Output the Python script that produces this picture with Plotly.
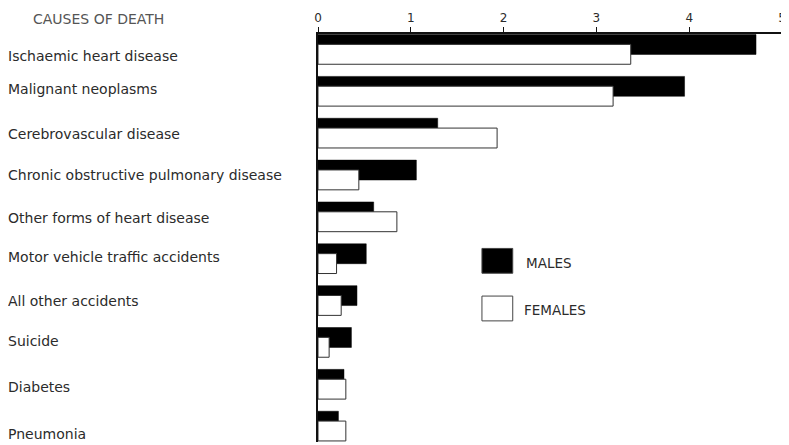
import plotly.graph_objects as go

categories = [
    "Ischaemic heart disease",
    "Malignant neoplasms",
    "Cerebrovascular disease",
    "Chronic obstructive pulmonary disease",
    "Other forms of heart disease",
    "Motor vehicle traffic accidents",
    "All other accidents",
    "Suicide",
    "Diabetes",
    "Pneumonia",
]
males = [4.72, 3.95, 1.29, 1.06, 0.60, 0.52, 0.42, 0.36, 0.28, 0.22]
females = [3.37, 3.18, 1.93, 0.44, 0.85, 0.20, 0.25, 0.12, 0.30, 0.30]
x_ticks = [0, 1, 2, 3, 4, 5]
legend_labels = ["MALES", "FEMALES"]

# layout-only nudges (pixels) for the category labels
label_nudge_px = [7, -2, 1, 0, 1, -2, 0, -1, 3, 8]

OFF = 8                      # default page margin of the html body
W, H = 789 - OFF, 445 - OFF
ML, MR, MT, MB = 318 - OFF, 4, 31 - OFF, 3
PW, PH = W - ML - MR, H - MT - MB
TPAD = 4                     # annotation inner padding

def px2x(px):
    return (px - OFF - ML) / PW

def py2y(py):
    return 1 - (py - OFF - MT) / PH

FONT = "DejaVu Sans"
TXT = "#2b2b2b"

pos = list(range(len(categories)))

fig = go.Figure()
fig.add_trace(go.Bar(
    orientation="h", x=males, y=pos, name=legend_labels[0],
    width=0.475, offset=-0.355,
    marker=dict(color="#000000", line=dict(color="#000000", width=0.5)),
    showlegend=False,
))
fig.add_trace(go.Bar(
    orientation="h", x=females, y=pos, name=legend_labels[1],
    width=0.475, offset=-0.12,
    marker=dict(color="#ffffff", line=dict(color="#333333", width=1)),
    showlegend=False,
))

annotations = []
for i, c in enumerate(categories):
    annotations.append(dict(
        text=c, x=px2x(8 - TPAD), xref="paper", xanchor="left",
        y=i, yref="y", yanchor="middle", yshift=-label_nudge_px[i],
        showarrow=False,
        font=dict(family=FONT, size=14, color=TXT),
    ))
annotations.append(dict(
    text="CAUSES OF DEATH", x=px2x(33 - TPAD), xref="paper", xanchor="left",
    y=py2y(16), yref="paper", yanchor="middle", showarrow=False,
    font=dict(family=FONT, size=14, color="#555555"),
))

shapes = []
leg = [(247, 272, "#000000", legend_labels[0], 529, 262),
       (295, 320, "#ffffff", legend_labels[1], 527, 309)]
for (y0, y1, col, lab, tx, ty) in leg:
    shapes.append(dict(
        type="rect", xref="paper", yref="paper",
        x0=px2x(483), x1=px2x(514), y0=py2y(y1), y1=py2y(y0),
        fillcolor=col, line=dict(color="#444444", width=1),
    ))
    annotations.append(dict(
        text=lab, x=px2x(tx - TPAD), xref="paper", xanchor="left",
        y=py2y(ty), yref="paper", yanchor="middle", showarrow=False,
        font=dict(family=FONT, size=13.5, color=TXT),
    ))

fig.update_layout(
    width=W, height=H,
    margin=dict(l=ML, r=MR, t=MT, b=MB, pad=0),
    paper_bgcolor="white", plot_bgcolor="white",
    barmode="overlay",
    xaxis=dict(
        side="top", range=[0, 5], tickvals=x_ticks,
        ticktext=[str(t) for t in x_ticks],
        showline=True, linecolor="#111111", linewidth=1.5,
        ticks="outside", ticklen=5, tickcolor="#111111", tickwidth=1,
        showgrid=False, zeroline=False,
        tickfont=dict(family=FONT, size=12, color=TXT),
    ),
    yaxis=dict(
        range=[9.38, -0.368], showline=True, linecolor="#111111", linewidth=1.5,
        showticklabels=False, ticks="", showgrid=False, zeroline=False,
    ),
    annotations=annotations,
    shapes=shapes,
)

fig.write_html("out.html")
